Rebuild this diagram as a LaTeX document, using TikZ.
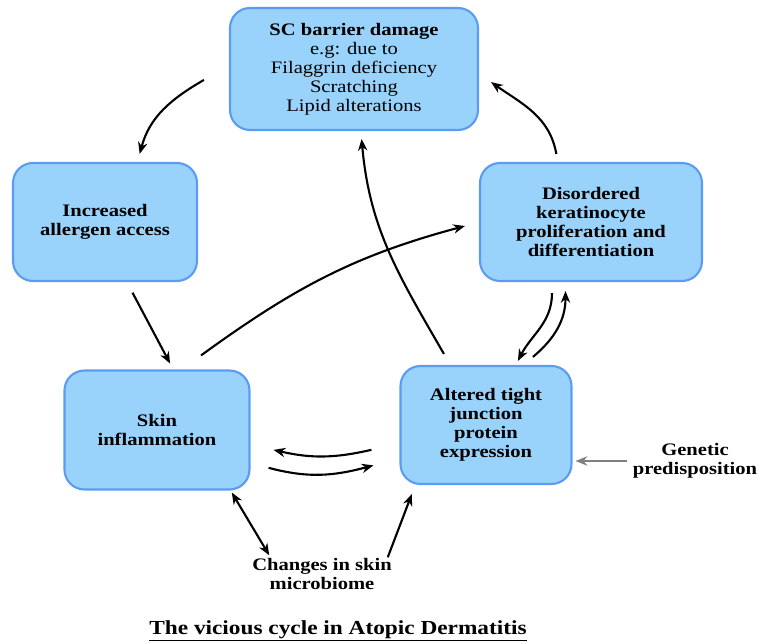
\documentclass[tikz,border=0pt]{standalone}
\usepackage{fontspec}
\setmainfont{Liberation Serif}[FakeStretch=1.17]
\usetikzlibrary{arrows.meta}
\definecolor{boxfill}{HTML}{99D3FB}
\definecolor{boxline}{HTML}{5B9CF2}
\definecolor{genarrow}{HTML}{7F7F7F}

\begin{document}
\begin{tikzpicture}[x=0.03cm, y=0.03cm, line width=1.8pt,
    >={Stealth[length=10pt, width=8pt]},
    box/.style={draw=boxline, fill=boxfill, rounded corners=0.6cm, align=center,
        inner sep=0pt, font=\fontsize{15}{16.2}\selectfont\bfseries},
    lbl/.style={align=center, inner sep=0pt, font=\fontsize{15}{16.2}\selectfont\bfseries}]
    \useasboundingbox (0,0) rectangle (760,643);

    % boxes of the cycle
    \node[box, minimum width=7.44cm, minimum height=3.66cm, font=\fontsize{15}{16.2}\selectfont] (sc) at (354,574)
        {\textbf{SC barrier damage}\\e.g: due to\\Filaggrin deficiency\\Scratching\\Lipid alterations};
    \node[box, minimum width=5.52cm, minimum height=3.54cm] (inc) at (105,421) {Increased\\allergen access};
    \node[box, minimum width=6.66cm, minimum height=3.54cm] (dis) at (591,421)
        {Disordered\\keratinocyte\\proliferation and\\differentiation};
    \node[box, minimum width=5.55cm, minimum height=3.57cm] (skin) at (157,213) {Skin\\inflammation};
    \node[box, minimum width=5.13cm, minimum height=3.54cm] (alt) at (486,218)
        {Altered tight\\junction\\protein\\expression};

    % outside causes
    \node[lbl] (chg) at (322,69) {Changes in skin\\microbiome};
    \node[lbl] (gen) at (695,182) {Genetic\\predisposition};
    \node[lbl, font=\fontsize{17}{18}\selectfont\bfseries] (title) at (338,12)
        {\underline{The vicious cycle in Atopic Dermatitis}};

    % arrows
    \draw[->] ([shift={(-25,0)}]sc.185) to[out=210, in=75] ([shift={(0,8)}]inc.60);
    \draw[->, shorten <=0.36cm, shorten >=0.2cm] (inc.-70) -- (skin.75);
    \draw[->] ([shift={(0,14)}]skin.54) to[out=36, in=195] ([shift={(-14,-4)}]dis.west);
    \draw[->] ([shift={(0,8)}]dis.120) to[out=100, in=-35] ([shift={(12,0)}]sc.-6);
    \draw[->] ([shift={(0,11)}]alt.125) to[out=120, in=-85] ([shift={(0,-8)}]sc.-83);
    \draw[->] ([shift={(0,-11)}]dis.-123) to[out=-90, in=63] ([shift={(0,4)}]alt.62);
    \draw[->] ([shift={(0,8)}]alt.52) to[out=40, in=-90] ([shift={(0,-9)}]dis.-113);
    \draw[->] ([shift={(-28,0)}]alt.196) to[out=193, in=-13] ([shift={(23,0)}]skin.-12);
    \draw[->] ([shift={(18,0)}]skin.-22) to[out=-15, in=195] ([shift={(-26,0)}]alt.205);
    \draw[<->] ([shift={(0,-2)}]skin.-39) -- ([shift={(18,2)}]chg.north west);
    \draw[->] ([shift={(-5,0)}]chg.north east) -- ([shift={(0,-9)}]alt.219);
    \draw[->, genarrow, shorten <=0.15cm, shorten >=0.09cm] (gen.west) -- (gen.west -| alt.east);
\end{tikzpicture}
\end{document}
